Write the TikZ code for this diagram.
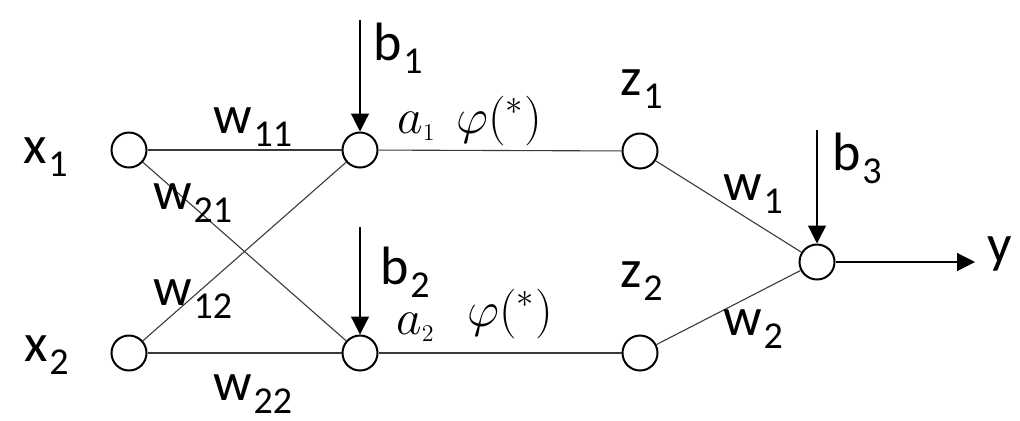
\documentclass[tikz,border=0pt]{standalone}
\usepackage{fontspec}
\setmainfont{Carlito}
\usetikzlibrary{arrows.meta}
\definecolor{nlink}{HTML}{3A3A3A}
\newcommand{\idx}[1]{\hspace{0.8pt}\raisebox{-6.5pt}{\fontsize{19}{19}\selectfont #1}}
\tikzset{
  % neurone della rete
  neuron/.style={circle, draw=black, line width=1pt, fill=white,
    minimum size=17.5pt, inner sep=0pt},
  % collegamento pesato
  wlink/.style={draw=nlink, line width=0.55pt},
  % soglia in ingresso e uscita
  feed/.style={-{Triangle[length=9pt, width=9pt]}, line width=0.6pt},
  % etichette
  lbl/.style={anchor=base west, inner sep=0pt, font=\fontsize{27}{30}\selectfont},
  mlbl/.style={anchor=base west, inner sep=0pt, font=\fontsize{25}{28}\selectfont},
}

\begin{document}
\begin{tikzpicture}[x=0.5pt, y=-0.5pt]
  \useasboundingbox (0,0) rectangle (1020,420);
  % neuroni
  \node[neuron] (x1) at (129,150) {};
  \node[neuron] (x2) at (129,353) {};
  \node[neuron] (h1) at (360,150) {};
  \node[neuron] (h2) at (360,353) {};
  \node[neuron] (z1) at (640,151) {};
  \node[neuron] (z2) at (640,353) {};
  \node[neuron] (out) at (817,262) {};
  % collegamenti
  \foreach \a/\b in {x1/h1, x1/h2, x2/h1, x2/h2, h1/z1, h2/z2, z1/out, z2/out}
    \draw[wlink] (\a) -- (\b);
  % soglie e uscita
  \coordinate (tb1) at (360,20);
  \coordinate (tb2) at (360,227);
  \coordinate (tb3) at (817,130);
  \coordinate (ty) at (975,262);
  \draw[feed] (tb1) -- (h1);
  \draw[feed] (tb2) -- (h2);
  \draw[feed] (tb3) -- (out);
  \draw[feed] (out) -- (ty);
  % etichette
  \node[lbl] (lx1) at (23,163) {x\idx{1}};
  \node[lbl] (lx2) at (24,361) {x\idx{2}};
  \node[lbl] (lw11) at (213,133) {w\idx{11}};
  \node[lbl] (lw21) at (153,209) {w\idx{21}};
  \node[lbl] (lw12) at (153,305) {w\idx{12}};
  \node[lbl] (lw22) at (213,400) {w\idx{22}};
  \node[lbl] (lb1) at (373,60) {b\idx{1}};
  \node[lbl] (lb2) at (380,284) {b\idx{2}};
  \node[lbl] (lb3) at (832,170) {b\idx{3}};
  \node[lbl] (lz1) at (620,95) {z\idx{1}};
  \node[lbl] (lz2) at (620,287) {z\idx{2}};
  \node[lbl] (lw1) at (723,200) {w\idx{1}};
  \node[lbl] (lw2) at (723,335) {w\idx{2}};
  \node[lbl] (ly) at (987,262) {y};
  \node[mlbl] (la1) at (397,133) {$a_{\scriptscriptstyle 1}$};
  \node[mlbl] (lf1) at (456,133) {$\varphi({}^{*})$};
  \node[mlbl] (la2) at (396,334) {$a_{\scriptscriptstyle 2}$};
  \node[mlbl] (lf2) at (467,326) {$\varphi({}^{*})$};
\end{tikzpicture}
\end{document}
